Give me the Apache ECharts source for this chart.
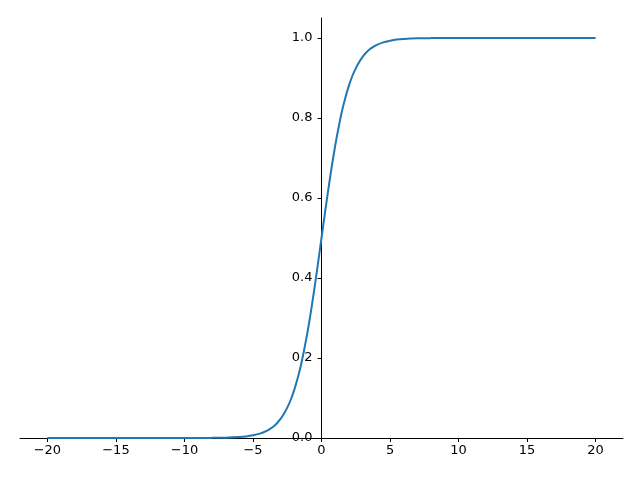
<!DOCTYPE html>
<html><head><meta charset="utf-8">
<script src="https://cdn.jsdelivr.net/npm/echarts@6/dist/echarts.min.js"></script>
<style>html,body{margin:0;padding:0;background:#fff}#c{width:640px;height:480px}</style>
</head><body><div id="c"></div>
<script>
const xs = [-20,-19,-18,-17,-16,-15,-14,-13,-12,-11,-10,-9,-8,-7,-6,-5.5,-5,-4.5,-4,-3.75,-3.5,-3.25,-3,-2.75,-2.5,-2.25,-2,-1.75,-1.5,-1.25,-1,-0.75,-0.5,-0.25,0,0.25,0.5,0.75,1,1.25,1.5,1.75,2,2.25,2.5,2.75,3,3.25,3.5,3.75,4,4.5,5,5.5,6,7,8,9,10,11,12,13,14,15,16,17,18,19,20];
const ys = [0,0,0,0,0,0,0,0,0,0,0,0.0001,0.0003,0.0009,0.0025,0.004,0.0067,0.011,0.018,0.023,0.029,0.037,0.047,0.060,0.076,0.095,0.119,0.148,0.182,0.223,0.269,0.321,0.378,0.438,0.5,0.562,0.622,0.679,0.731,0.777,0.818,0.852,0.881,0.905,0.924,0.940,0.953,0.963,0.971,0.977,0.982,0.989,0.993,0.996,0.9975,0.9991,0.9997,0.9999,1,1,1,1,1,1,1,1,1,1,1];
const xTicks = [-20,-15,-10,-5,0,5,10,15,20];
const yTicks = [0,0.2,0.4,0.6,0.8,1.0];
const fmtX = v => (v < 0 ? '\u2212' + Math.abs(v) : String(v));
const chart = echarts.init(document.getElementById('c'));
const font = {fontFamily:'DejaVu Sans', fontSize:13, color:'#000'};
const gridLeft = 20, gridRight = 17;
const plotW = 640 - gridLeft - gridRight;
chart.setOption({
  animation:false,
  grid:{left:gridLeft,right:gridRight,top:18,bottom:42,containLabel:false,outerBoundsMode:'none'},
  xAxis:{type:'value',min:-22,max:22,
    axisLine:{onZero:false,lineStyle:{color:'#000',width:1}},
    axisTick:{show:true,length:4,customValues:xTicks,lineStyle:{color:'#000'}},
    axisLabel:Object.assign({customValues:xTicks,formatter:fmtX,margin:6},font),
    splitLine:{show:false}},
  yAxis:{type:'value',min:0,max:1.05,position:'left',offset:-plotW/2,
    axisLine:{show:true,onZero:false,lineStyle:{color:'#000',width:1}},
    axisTick:{show:true,length:4,customValues:yTicks,lineStyle:{color:'#000'}},
    axisLabel:Object.assign({customValues:yTicks,formatter:v=>v.toFixed(1),margin:9},font),
    splitLine:{show:false}},
  series:[{type:'line',data:xs.map((x,i)=>[x,ys[i]]),showSymbol:false,smooth:0.3,
    lineStyle:{color:'#1f77b4',width:2}}]
});
</script></body></html>
